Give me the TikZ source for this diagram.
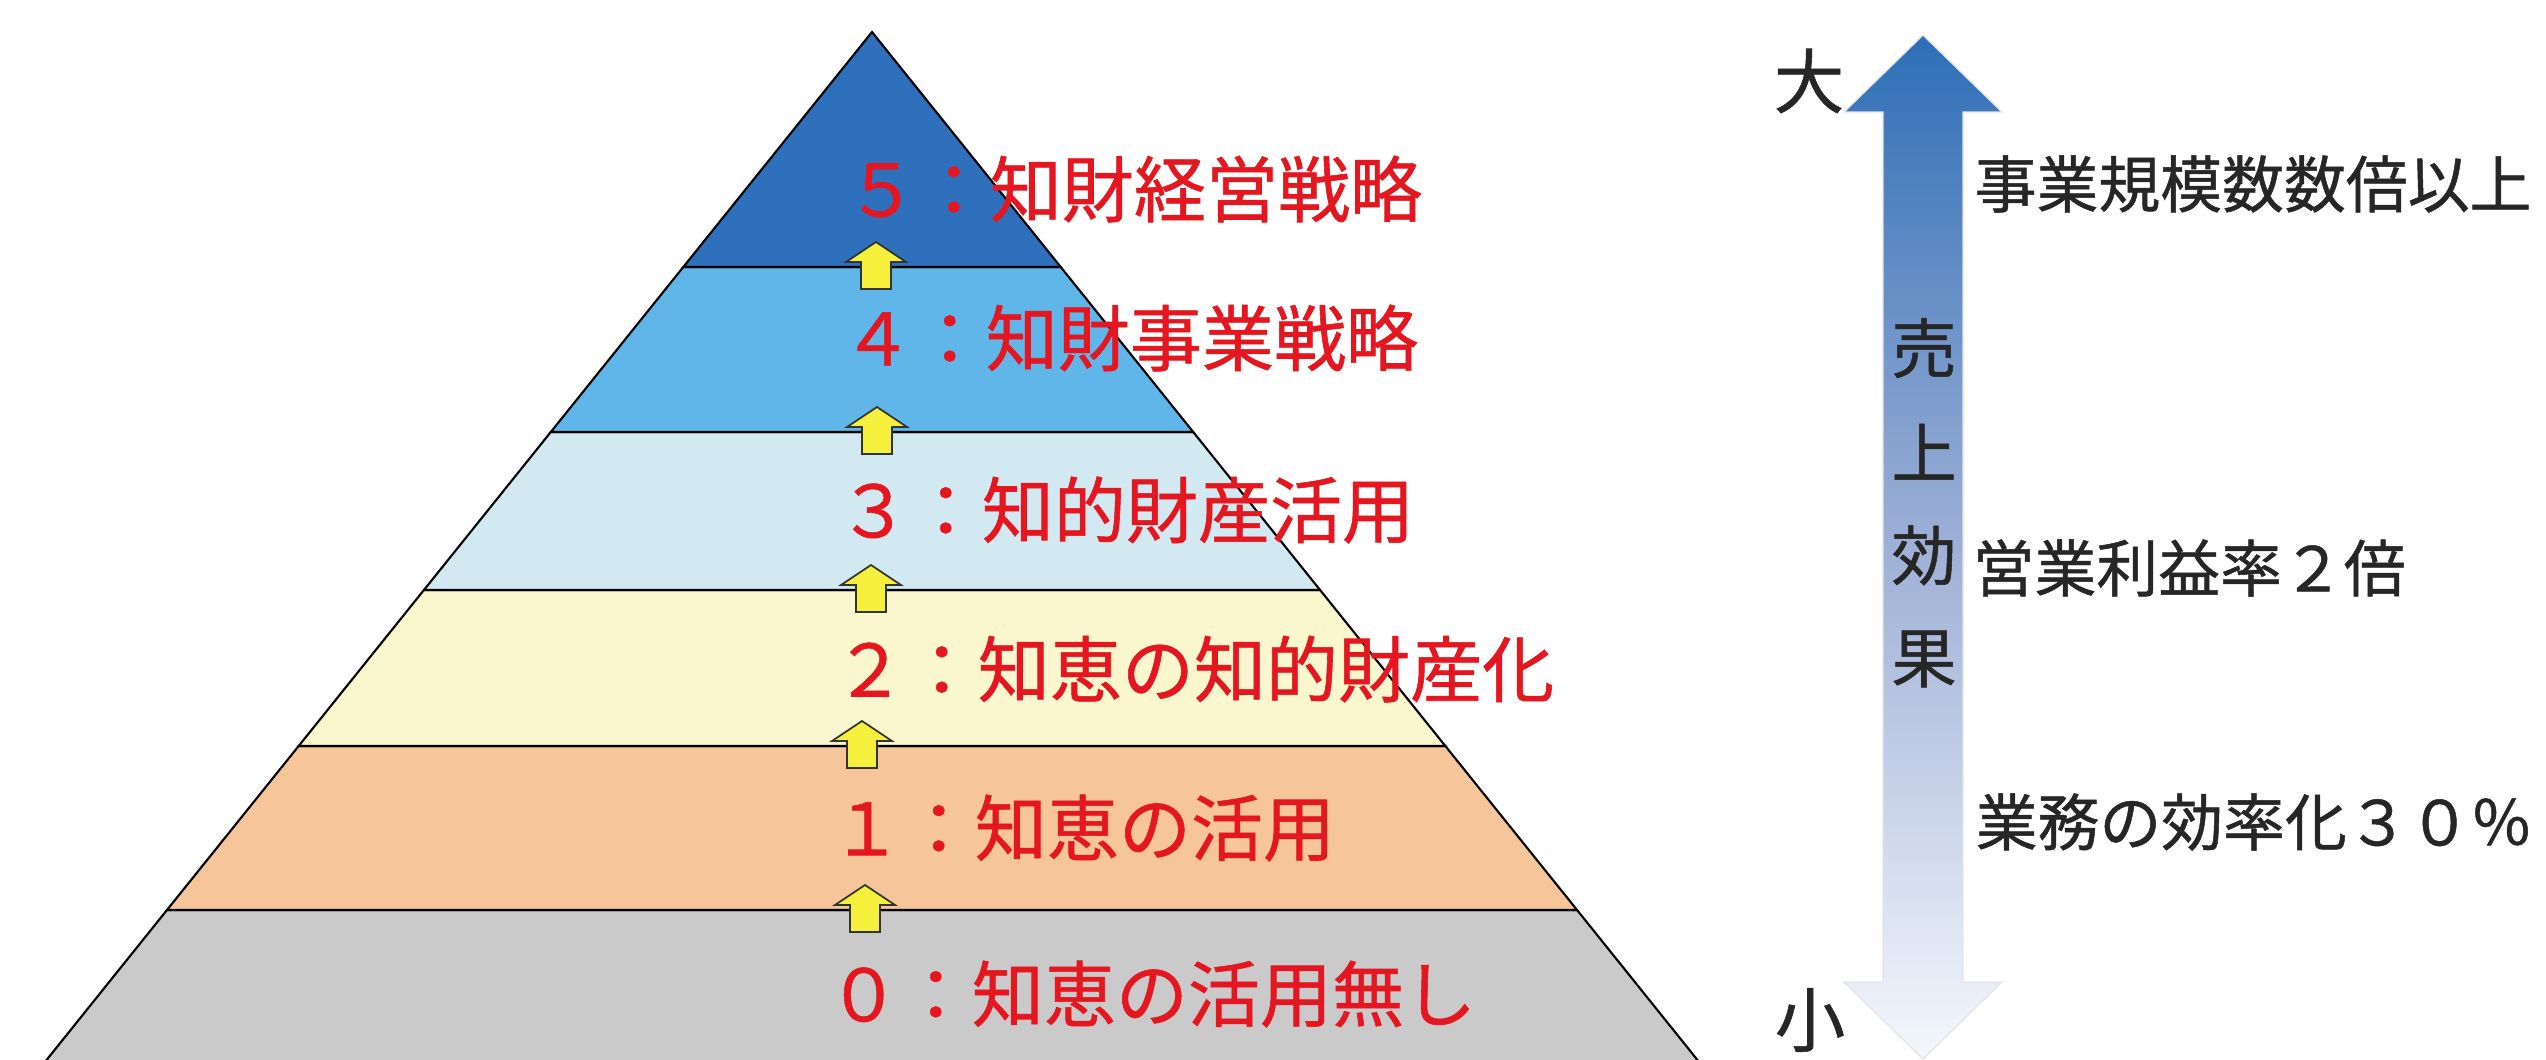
\documentclass[tikz,border=0pt]{standalone}
\usepackage{fontspec}
\setmainfont{Noto Sans CJK JP}[FakeBold=0.8]
\definecolor{band5}{RGB}{46,112,188}
\definecolor{band4}{RGB}{96,182,232}
\definecolor{band3}{RGB}{210,233,242}
\definecolor{band2}{RGB}{250,246,206}
\definecolor{band1}{RGB}{246,198,154}
\definecolor{band0}{RGB}{202,202,202}
\definecolor{lvlred}{RGB}{228,22,32}
\definecolor{stepyellow}{RGB}{244,240,60}
\definecolor{gaintop}{RGB}{46,110,182}
\definecolor{gainmid}{RGB}{158,176,214}
\definecolor{gainbot}{RGB}{244,247,253}
\tikzset{
  lvl/.style={anchor=west, inner sep=0pt, text=lvlred, font=\fontsize{20.5}{24}\selectfont},
  gain/.style={anchor=west, inner sep=0pt, text=black!85, font=\fontsize{17.6}{21}\selectfont},
  sizelbl/.style={inner sep=0pt, text=black!85, font=\fontsize{20}{24}\selectfont},
  efflbl/.style={inner sep=0pt, text=black!85, font=\fontsize{18.5}{22}\selectfont},
  stepup/.style={fill=stepyellow, draw=black!80, line width=0.5pt}
}

\begin{document}
\begin{tikzpicture}
	\useasboundingbox (0,0) rectangle (25.46,10.59);
	\def\topx{8.72}
	\def\topy{10.27}
	\def\run{0.803}
	% pyramid, bottom band first
	\begin{scope}
	\clip (0,0) rectangle (25.46,10.59);
	\foreach \lo/\hi/\col in {-0.3/1.49/band0, 1.49/3.13/band1, 3.13/4.69/band2, 4.69/6.27/band3, 6.27/7.92/band4, 7.92/10.27/band5}
	\draw [fill=\col, line width=0.6pt] ({\topx-\run*(\topy-\lo)},\lo) -- ({\topx+\run*(\topy-\lo)},\lo) -- ({\topx+\run*(\topy-\hi)},\hi) -- ({\topx-\run*(\topy-\hi)},\hi) -- cycle;
	\end{scope}
	% small arrows between the levels
	\foreach \x/\y in {8.76/7.92, 8.77/6.27, 8.71/4.69, 8.62/3.13, 8.65/1.49}
	\draw [stepup] (\x-0.15,\y-0.22) -- (\x-0.15,\y+0.05) -- (\x-0.30,\y+0.05) -- (\x,\y+0.25) -- (\x+0.30,\y+0.05) -- (\x+0.15,\y+0.05) -- (\x+0.15,\y-0.22) -- cycle;
	\node [lvl] (lvl5) at (8.45,8.70) {５：知財経営戦略};
	\node [lvl] (lvl4) at (8.41,7.21) {４：知財事業戦略};
	\node [lvl] (lvl3) at (8.37,5.49) {３：知的財産活用};
	\node [lvl] (lvl2) at (8.33,3.90) {２：知恵の知的財産化};
	\node [lvl] (lvl1) at (8.30,2.31) {１：知恵の活用};
	\node [lvl] (lvl0) at (8.27,0.65) {０：知恵の活用無し};
	% effect arrow
	\shade [top color=gaintop, bottom color=gainbot, middle color=gainmid, draw=black!10, line width=0.4pt]
	(19.23,10.24) -- (20.02,9.47) -- (19.63,9.47) -- (19.63,0.77) -- (20.02,0.77) -- (19.23,0.0) -- (18.44,0.77) -- (18.83,0.77) -- (18.83,9.47) -- (18.44,9.47) -- cycle;
	\node [sizelbl] (big) at (18.09,9.78) {大};
	\node [sizelbl] (small) at (18.10,0.39) {小};
	\foreach \ch [count=\i] in {売,上,効,果}
	\node [efflbl] (eff\i) at (19.24,{7.11-1.037*(\i-1)}) {\ch};
	\node [gain] (gain3) at (19.74,8.75) {事業規模数数倍以上};
	\node [gain] (gain2) at (19.72,4.91) {営業利益率２倍};
	\node [gain] (gain1) at (19.75,2.37) {業務の効率化３０％};
\end{tikzpicture}
\end{document}
